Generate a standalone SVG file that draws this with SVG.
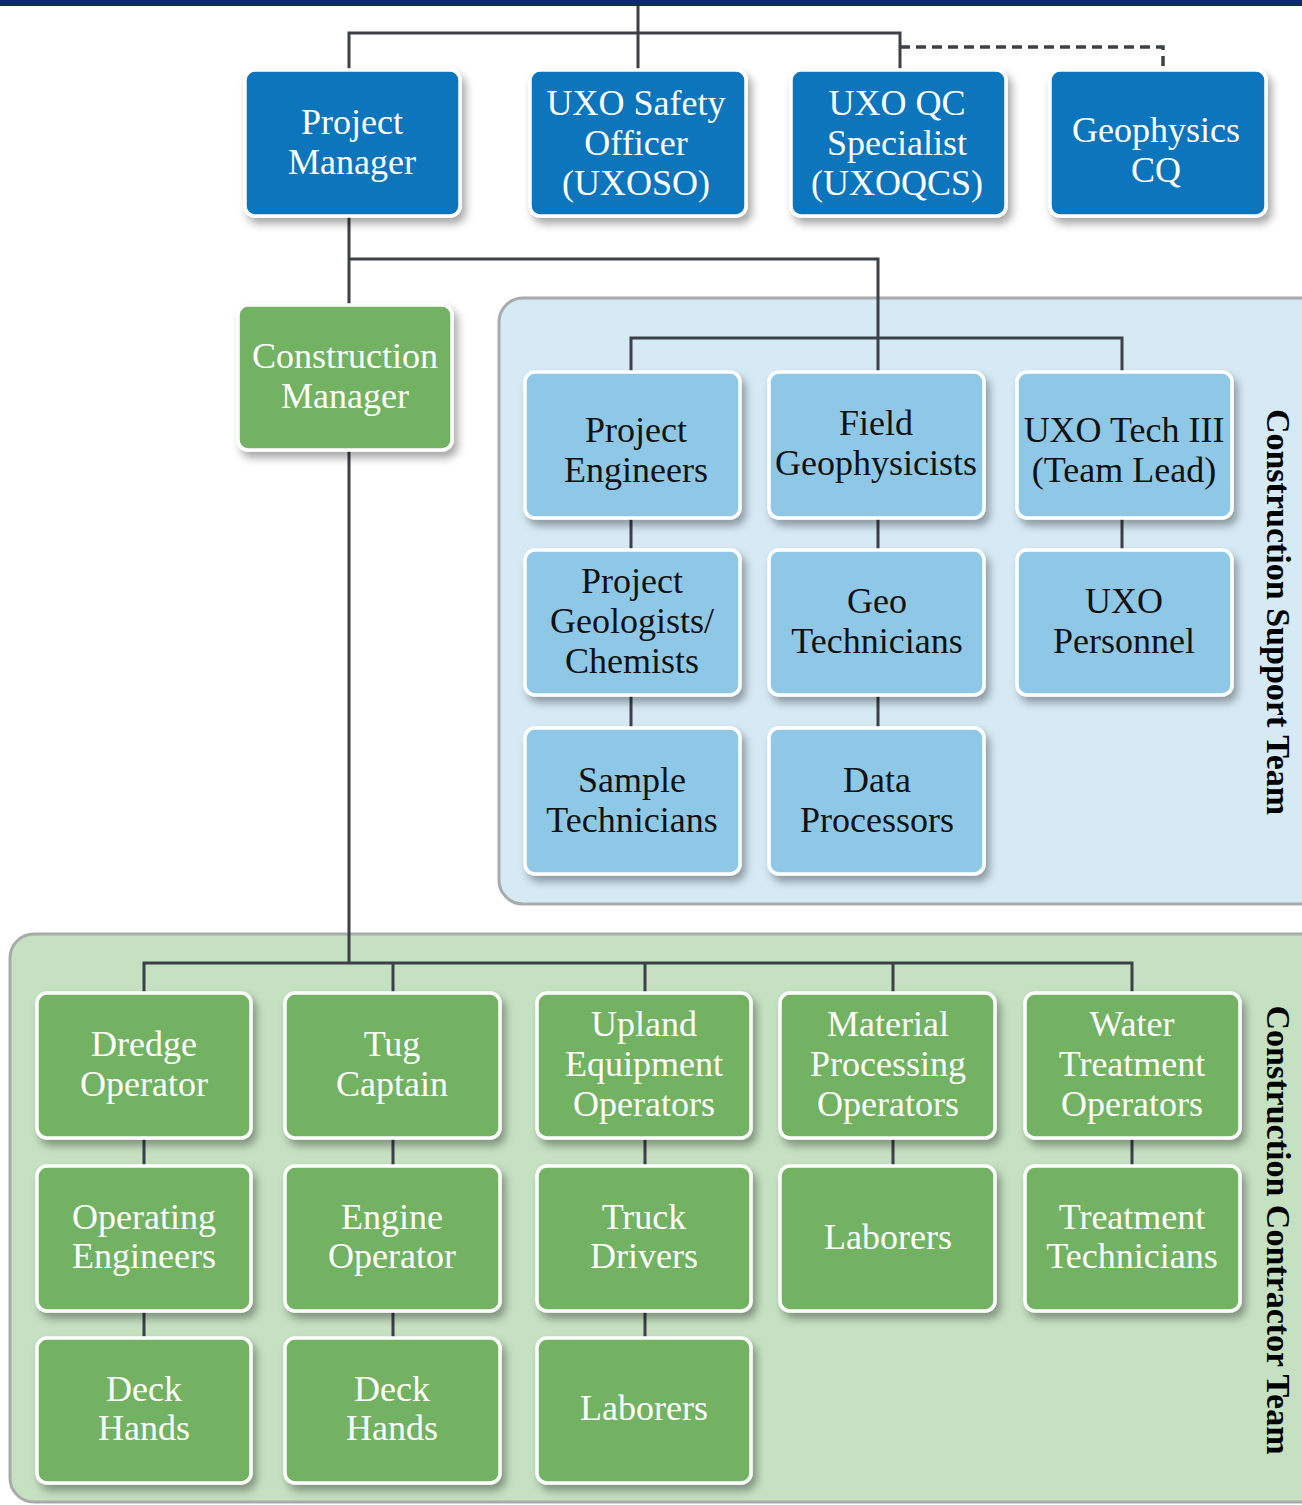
<svg xmlns="http://www.w3.org/2000/svg" width="1302" height="1505" viewBox="0 0 1302 1505">
  <defs>
    <filter id="shadow" x="-10%" y="-10%" width="130%" height="135%">
      <feDropShadow dx="4" dy="6" stdDeviation="4" flood-color="#000" flood-opacity="0.35"/>
    </filter>
    <style>
      .node rect { stroke: #ffffff; stroke-width: 3.5; filter: url(#shadow); }
      .blue rect { fill: #0a74bb; }
      .green rect { fill: #72b262; }
      .light rect { fill: #8ec8e6; }
      .node text { font-family: "Liberation Serif", "Times New Roman", serif; font-size: 36px; text-anchor: middle; }
      .blue text, .green text { fill: #ffffff; }
      .light text { fill: #111111; }
      .panel { stroke: #a8aaab; stroke-width: 3; }
      .wire { fill: none; stroke: #3c4148; stroke-width: 3; }
      .dash { fill: none; stroke: #3c4148; stroke-width: 3.5; stroke-dasharray: 10 6; }
      .team { font-family: "Liberation Serif", "Times New Roman", serif; font-size: 34px; font-weight: bold; fill: #000; text-anchor: middle; }
    </style>
  </defs>

  <rect width="1302" height="1505" fill="#ffffff"/>
  <!-- top banner -->
  <rect x="0" y="0" width="1302" height="6" fill="#0b2a6f"/>

  <!-- team panels -->
  <rect class="panel" x="499" y="298" width="830" height="606" rx="24" fill="#d6eaf6"/>
  <rect class="panel" x="10" y="934" width="1320" height="568" rx="24" fill="#c6e1c2"/>

  <text class="team" transform="translate(1267,612) rotate(90)">Construction Support Team</text>
  <text class="team" transform="translate(1267,1230) rotate(90)">Construction Contractor Team</text>

  <!-- connectors -->
  <g id="connectors">
    <path class="wire" d="M638 6 V70 M349 70 V33 H900 V70"/>
    <path class="dash" d="M900 47 H1163 V70"/>
    <path class="wire" d="M349 216 V305 M349 259 H878 V372"/>
    <path class="wire" d="M631 372 V338 H1122 V372"/>
    <path class="wire" d="M631 518 V550 M631 695 V728 M878 518 V550 M878 695 V728 M1122 518 V550"/>
    <path class="wire" d="M349 450 V963 M144 993 V963 H1132 V993 M393 963 V993 M645 963 V993 M893 963 V993"/>
    <path class="wire" d="M144 1138 V1166 M144 1311 V1338 M393 1138 V1166 M393 1311 V1338 M645 1138 V1166 M645 1311 V1338 M893 1138 V1166 M1132 1138 V1166"/>
  </g>

  <!-- management row -->
  <g id="project-manager" class="node blue">
    <rect x="245" y="70" width="215" height="146" rx="10"/>
    <text x="352" y="134">Project</text>
    <text x="352" y="174">Manager</text>
  </g>
  <g id="uxoso" class="node blue">
    <rect x="530" y="70" width="216" height="146" rx="10"/>
    <text x="636" y="115">UXO Safety</text>
    <text x="636" y="155">Officer</text>
    <text x="636" y="195">(UXOSO)</text>
  </g>
  <g id="uxoqcs" class="node blue">
    <rect x="791" y="70" width="215" height="146" rx="10"/>
    <text x="897" y="115">UXO QC</text>
    <text x="897" y="155">Specialist</text>
    <text x="897" y="195">(UXOQCS)</text>
  </g>
  <g id="geophysics-cq" class="node blue">
    <rect x="1050" y="70" width="216" height="146" rx="10"/>
    <text x="1156" y="142">Geophysics</text>
    <text x="1156" y="182">CQ</text>
  </g>

  <g id="construction-manager" class="node green">
    <rect x="238" y="305" width="214" height="145" rx="10"/>
    <text x="345" y="368">Construction</text>
    <text x="345" y="408">Manager</text>
  </g>

  <!-- construction support team -->
  <g id="project-engineers" class="node light">
    <rect x="525" y="372" width="215" height="146" rx="10"/>
    <text x="636" y="442">Project</text>
    <text x="636" y="482">Engineers</text>
  </g>
  <g id="field-geophysicists" class="node light">
    <rect x="769" y="372" width="215" height="146" rx="10"/>
    <text x="876" y="435">Field</text>
    <text x="876" y="475">Geophysicists</text>
  </g>
  <g id="uxo-tech-iii" class="node light">
    <rect x="1017" y="372" width="215" height="146" rx="10"/>
    <text x="1124" y="442">UXO Tech III</text>
    <text x="1124" y="482">(Team Lead)</text>
  </g>
  <g id="project-geologists" class="node light">
    <rect x="525" y="550" width="215" height="145" rx="10"/>
    <text x="632" y="593">Project</text>
    <text x="632" y="633">Geologists/</text>
    <text x="632" y="673">Chemists</text>
  </g>
  <g id="geo-technicians" class="node light">
    <rect x="769" y="550" width="215" height="145" rx="10"/>
    <text x="877" y="613">Geo</text>
    <text x="877" y="653">Technicians</text>
  </g>
  <g id="uxo-personnel" class="node light">
    <rect x="1017" y="550" width="215" height="145" rx="10"/>
    <text x="1124" y="613">UXO</text>
    <text x="1124" y="653">Personnel</text>
  </g>
  <g id="sample-technicians" class="node light">
    <rect x="525" y="728" width="215" height="146" rx="10"/>
    <text x="632" y="792">Sample</text>
    <text x="632" y="832">Technicians</text>
  </g>
  <g id="data-processors" class="node light">
    <rect x="769" y="728" width="215" height="146" rx="10"/>
    <text x="877" y="792">Data</text>
    <text x="877" y="832">Processors</text>
  </g>

  <!-- construction contractor team -->
  <g id="dredge-operator" class="node green">
    <rect x="37" y="993" width="214" height="145" rx="10"/>
    <text x="144" y="1056">Dredge</text>
    <text x="144" y="1096">Operator</text>
  </g>
  <g id="tug-captain" class="node green">
    <rect x="285" y="993" width="215" height="145" rx="10"/>
    <text x="392" y="1056">Tug</text>
    <text x="392" y="1096">Captain</text>
  </g>
  <g id="upland-equipment" class="node green">
    <rect x="537" y="993" width="214" height="145" rx="10"/>
    <text x="644" y="1036">Upland</text>
    <text x="644" y="1076">Equipment</text>
    <text x="644" y="1116">Operators</text>
  </g>
  <g id="material-processing" class="node green">
    <rect x="780" y="993" width="215" height="145" rx="10"/>
    <text x="888" y="1036">Material</text>
    <text x="888" y="1076">Processing</text>
    <text x="888" y="1116">Operators</text>
  </g>
  <g id="water-treatment" class="node green">
    <rect x="1025" y="993" width="215" height="145" rx="10"/>
    <text x="1132" y="1036">Water</text>
    <text x="1132" y="1076">Treatment</text>
    <text x="1132" y="1116">Operators</text>
  </g>

  <g id="operating-engineers" class="node green">
    <rect x="37" y="1166" width="214" height="145" rx="10"/>
    <text x="144" y="1229">Operating</text>
    <text x="144" y="1268">Engineers</text>
  </g>
  <g id="engine-operator" class="node green">
    <rect x="285" y="1166" width="215" height="145" rx="10"/>
    <text x="392" y="1229">Engine</text>
    <text x="392" y="1268">Operator</text>
  </g>
  <g id="truck-drivers" class="node green">
    <rect x="537" y="1166" width="214" height="145" rx="10"/>
    <text x="644" y="1229">Truck</text>
    <text x="644" y="1268">Drivers</text>
  </g>
  <g id="laborers-material" class="node green">
    <rect x="780" y="1166" width="215" height="145" rx="10"/>
    <text x="888" y="1249">Laborers</text>
  </g>
  <g id="treatment-technicians" class="node green">
    <rect x="1025" y="1166" width="215" height="145" rx="10"/>
    <text x="1132" y="1229">Treatment</text>
    <text x="1132" y="1268">Technicians</text>
  </g>

  <g id="deck-hands-dredge" class="node green">
    <rect x="37" y="1338" width="214" height="145" rx="10"/>
    <text x="144" y="1401">Deck</text>
    <text x="144" y="1440">Hands</text>
  </g>
  <g id="deck-hands-tug" class="node green">
    <rect x="285" y="1338" width="215" height="145" rx="10"/>
    <text x="392" y="1401">Deck</text>
    <text x="392" y="1440">Hands</text>
  </g>
  <g id="laborers-upland" class="node green">
    <rect x="537" y="1338" width="214" height="145" rx="10"/>
    <text x="644" y="1420">Laborers</text>
  </g>
</svg>
